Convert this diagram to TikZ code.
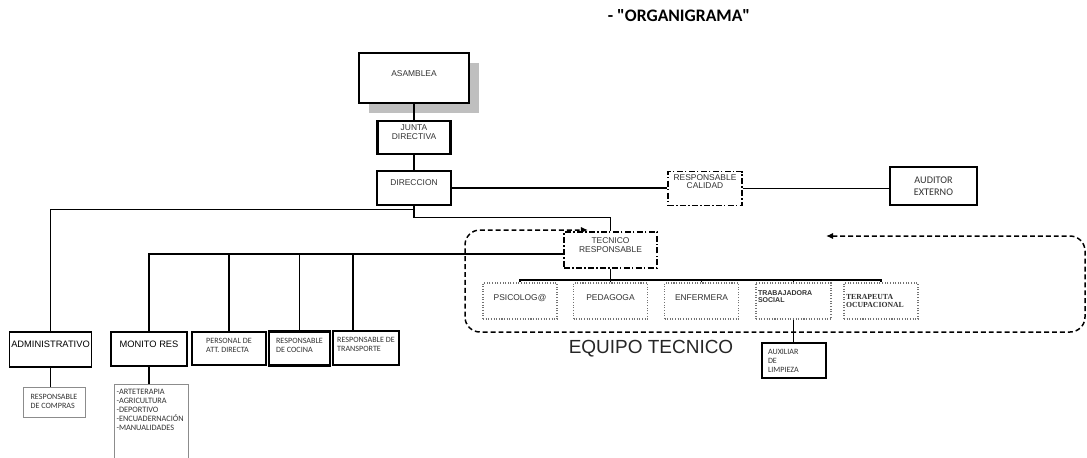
\documentclass[tikz,border=0pt]{standalone}
\usepackage{fontspec}
\setmainfont{Liberation Sans}
\newfontfamily\arialf{Liberation Sans}
\newfontfamily\calf{Carlito}
\newfontfamily\timesf{Liberation Serif}
\usetikzlibrary{arrows.meta,shadows}

\begin{document}
\begin{tikzpicture}[
	box/.style={rectangle, draw=black, thick, fill=white, inner sep=1pt, align=center, text=black!80, font=\arialf\fontsize{4.8}{5.1}\selectfont},
	calbox/.style={box, font=\calf\fontsize{4.6}{5.4}\selectfont},
	dashdot/.style={box, line width=0.8pt, dash pattern=on 3.4pt off 1.3pt on 0.8pt off 1.3pt},
	dotbox/.style={box, draw=black!55, line width=0.6pt, dash pattern=on 0.6pt off 0.9pt},
	greybox/.style={calbox, draw=black!45, line width=0.5pt},
	wh/.style 2 args={minimum width=#1cm, minimum height=#2cm},
	link/.style={draw=black, thick},
	>={Latex[length=4pt,width=3.6pt]}
	]
				\useasboundingbox (0,0) rectangle (21.74,-9.14);
				
				\node[font=\calf\bfseries\fontsize{10}{12}\selectfont, inner sep=0pt] (title) at (13.58,-0.32){- "ORGANIGRAMA"};
				
				\node[box, line width=1.6pt, wh={2.2}{1.0}, text depth=4.5pt, drop shadow={shadow xshift=0.2cm, shadow yshift=-0.2cm, fill=black!25, opacity=1}] (asamblea) at (8.28,-1.56){ASAMBLEA};
				\node[box, line width=1.3pt, wh={1.46}{0.66}, text depth=5.7pt] (junta) at (8.28,-2.75){JUNTA\\DIRECTIVA};
				\node[box, wh={1.48}{0.68}, text depth=5.7pt] (dir) at (8.28,-3.76){DIRECCION};
				\node[dashdot, wh={1.48}{0.68}, text depth=7.8pt, font=\arialf\fontsize{4.8}{4.6}\selectfont] (cal) at (14.10,-3.77){RESPONSABLE\\CALIDAD};
				\node[calbox, line width=1pt, wh={1.74}{0.76}, text depth=0pt, font=\calf\fontsize{5.8}{7}\selectfont] (aud) at (18.67,-3.72){AUDITOR\\EXTERNO};
				\node[dashdot, wh={1.86}{0.72}, text depth=5.1pt] (tec) at (12.21,-5.00){TECNICO\\RESPONSABLE};
				
				\node[dotbox, wh={1.48}{0.72}, text depth=4.2pt] (psi) at (10.40,-6.02){PSICOLOG@};
				\node[dotbox, wh={1.48}{0.72}, text depth=4.2pt] (ped) at (12.21,-6.02){PEDAGOGA};
				\node[dotbox, wh={1.48}{0.72}, text depth=4.2pt] (enf) at (14.03,-6.02){ENFERMERA};
				\node[dotbox, wh={1.50}{0.72}, text depth=9.6pt, inner xsep=0.04cm, text width=1.42cm, align=left, font=\arialf\bfseries\fontsize{4}{4.5}\selectfont] (tra) at (15.87,-6.02){TRABAJADORA\\SOCIAL};
				\node[dotbox, wh={1.48}{0.72}, text depth=5pt, inner xsep=0.04cm, text width=1.40cm, align=left, font=\timesf\bfseries\fontsize{4.4}{4.7}\selectfont] (ter) at (17.62,-6.02){TERAPEUTA\\OCUPACIONAL};
				
				\node[box, wh={1.54}{0.70}, text depth=5.8pt, text=black, font=\arialf\fontsize{5.3}{6}\selectfont] (adm) at (1.01,-6.99){ADMINISTRATIVO};
				\node[box, wh={1.52}{0.68}, text depth=5.8pt, text=black, font=\arialf\fontsize{5.3}{6}\selectfont] (mon) at (2.98,-6.98){MONITO RES};
				\node[calbox, line width=1.2pt, wh={1.48}{0.66}, text depth=3.8pt, align=left] (per) at (4.58,-6.97){PERSONAL DE\\ATT. DIRECTA};
				\node[calbox, line width=1.2pt, wh={1.22}{0.68}, text depth=3.8pt, align=left] (coc) at (5.99,-6.97){RESPONSABLE\\DE COCINA};
				\node[calbox, wh={1.32}{0.68}, text depth=4.1pt, align=left] (trp) at (7.32,-6.96){RESPONSABLE DE\\TRANSPORTE};
				\node[greybox, wh={1.24}{0.60}, text depth=0.7pt, align=left] (com) at (1.08,-8.04){RESPONSABLE\\DE COMPRAS};
				\node[greybox, anchor=north, wh={1.48}{1.8}, inner sep=0pt, inner xsep=0.05cm, text width=1.38cm, align=left, text depth=43.2pt, font=\calf\fontsize{4.7}{5.2}\selectfont] (act) at (3.02,-7.68){-ARTETERAPIA\\-AGRICULTURA\\-DEPORTIVO\\-ENCUADERNACIÓN\\-MANUALIDADES};
				\node[calbox, wh={1.28}{0.70}, inner xsep=0.12cm, text width=1.04cm, align=left, font=\calf\fontsize{4.6}{5.1}\selectfont] (aux) at (15.88,-7.21){AUXILIAR\\DE\\LIMPIEZA};
				
				\node[anchor=base, inner sep=0pt, text=black!85, font=\arialf\fontsize{10.8}{12}\selectfont] (equipo) at (13.02,-7.06){EQUIPO TECNICO};
				
				\coordinate (sbus) at (0,-5.08);
				\coordinate (tbus) at (0,-5.60);
				
				\path[link] (asamblea.south) edge (junta.north);
				\path[link] (junta.south) edge (dir.north);
				\path[link] (dir.east) edge (dir.east -| cal.west);
				\path[link] (cal.east) edge (cal.east -| aud.west);
				\draw[link] (dir.south) -- ++(0,-0.08) -| (adm.north);
				\draw[link] (dir.south) -- ++(0,-0.24) -| (tec.north);
				\draw[link] (tec.west |- sbus) -| (mon.north);
				\path[link] (per.north |- sbus) edge (per.north);
				\path[link] (coc.north |- sbus) edge (coc.north);
				\path[link] ([xshift=-0.26cm]trp.north |- sbus) edge ([xshift=-0.26cm]trp.north);
				\path[link] (adm.south) edge (adm.south |- com.north);
				\path[link] (mon.south) edge (mon.south |- act.north);
				\path[link] (tec.south) edge (tec.south |- tbus);
				\draw[link] (psi.north) -- (psi.north |- tbus) -- (ter.north |- tbus) -- (ter.north);
				\path[link] (ped.north) edge (ped.north |- tbus);
				\path[link] (enf.north) edge (enf.north |- tbus);
				\path[link] (tra.north) edge (tra.north |- tbus);
				\path[link] (tra.south) edge (tra.south |- aux.north);
				
				\draw[line width=0.85pt, dash pattern=on 2.8pt off 1.7pt, rounded corners=0.3cm, <->] (16.52,-4.72) -- (21.70,-4.72) -- (21.70,-6.64) -- (9.30,-6.64) -- (9.30,-4.60) -- (11.76,-4.60);
\end{tikzpicture}
\end{document}
